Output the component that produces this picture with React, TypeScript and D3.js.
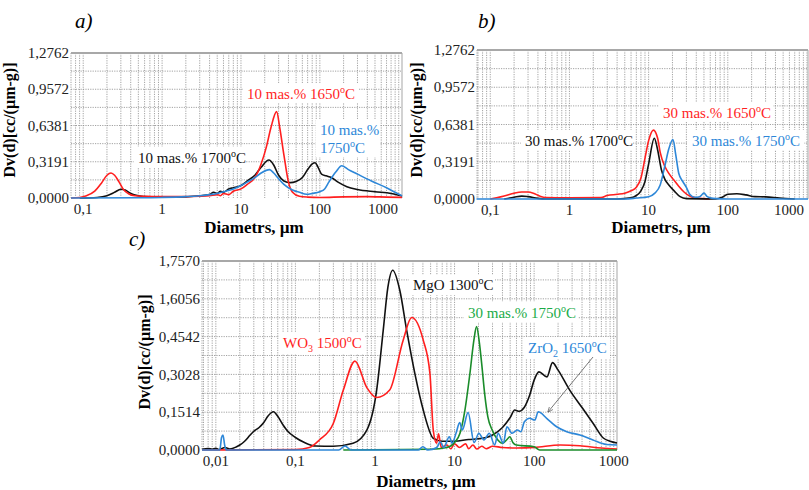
import React, { useEffect } from "react";
import * as d3 from "d3";

type Pt = [number, number];

// ---- panel a: 10 mas.% ----
const a1650: Pt[] = [[0.07, 0], [0.09, 0.005], [0.11, 0.02], [0.14, 0.06], [0.17, 0.13], [0.2, 0.2], [0.225, 0.22], [0.25, 0.2], [0.28, 0.15], [0.32, 0.08], [0.38, 0.035], [0.45, 0.02], [0.6, 0.015], [1, 0.012], [2, 0.012], [3, 0.015], [4, 0.02], [5, 0.03], [5.5, 0.02], [6, 0.04], [7, 0.03], [8, 0.06], [10, 0.08], [12, 0.12], [15, 0.18], [18, 0.3], [21, 0.45], [24, 0.62], [28.3, 0.76], [31, 0.62], [35, 0.38], [40, 0.14], [45, 0.05], [55, 0.015], [70, 0.008], [100, 0.005], [200, 0.01], [400, 0.012], [700, 0.008], [1100, 0.005]];
const a1700: Pt[] = [[0.09, 0], [0.15, 0.005], [0.2, 0.02], [0.25, 0.05], [0.3, 0.077], [0.34, 0.07], [0.4, 0.04], [0.5, 0.02], [0.7, 0.01], [1, 0.008], [2, 0.01], [3, 0.02], [4, 0.03], [4.5, 0.05], [5, 0.04], [5.5, 0.06], [6, 0.05], [7, 0.08], [8, 0.09], [10, 0.11], [12, 0.15], [15, 0.2], [18, 0.27], [22.6, 0.334], [26, 0.29], [30, 0.2], [35, 0.15], [42, 0.135], [50, 0.145], [60, 0.18], [70, 0.25], [80, 0.3], [87, 0.31], [95, 0.27], [105, 0.21], [120, 0.195], [140, 0.18], [170, 0.14], [220, 0.1], [300, 0.075], [500, 0.055], [800, 0.04], [1000, 0.025], [1100, 0.018]];
const a1750: Pt[] = [[0.07, 0], [0.5, 0.002], [1, 0.005], [2, 0.012], [3, 0.02], [4, 0.03], [5, 0.04], [6, 0.055], [8, 0.08], [10, 0.11], [12, 0.14], [15, 0.18], [18, 0.22], [23, 0.25], [26, 0.22], [30, 0.17], [35, 0.12], [45, 0.07], [55, 0.05], [68, 0.033], [80, 0.04], [100, 0.055], [115, 0.08], [130, 0.14], [160, 0.23], [189, 0.284], [230, 0.25], [300, 0.21], [450, 0.15], [700, 0.09], [900, 0.05], [1100, 0.02]];

// ---- panel b: 30 mas.% ----
const b1650: Pt[] = [[0.1, 0], [0.12, 0.01], [0.15, 0.025], [0.2, 0.05], [0.25, 0.06], [0.3, 0.06], [0.35, 0.05], [0.42, 0.025], [0.5, 0.012], [1, 0.01], [2.5, 0.012], [3, 0.03], [4, 0.04], [5, 0.05], [6, 0.07], [7, 0.1], [8, 0.18], [9, 0.35], [10, 0.5], [11.5, 0.59], [13, 0.52], [14, 0.4], [16, 0.28], [18, 0.22], [21, 0.16], [24, 0.11], [28, 0.06], [33, 0.025], [40, 0.01], [50, 0.003], [60, 0]];
const b1700: Pt[] = [[0.15, 0], [0.2, 0.015], [0.25, 0.025], [0.3, 0.02], [0.4, 0.005], [0.5, 0], [4, 0], [6, 0.01], [7, 0.03], [8, 0.07], [9, 0.15], [10, 0.3], [11.8, 0.52], [13, 0.42], [14.5, 0.25], [16, 0.17], [18, 0.12], [21, 0.07], [25, 0.02], [30, 0.003], [70, 0], [85, 0.015], [100, 0.04], [130, 0.045], [170, 0.035], [220, 0.02], [300, 0.018], [450, 0.008], [700, 0]];
const b1750: Pt[] = [[0.067, 0], [5, 0], [7, 0.008], [10, 0.02], [12, 0.05], [14, 0.12], [16, 0.28], [18, 0.43], [20.3, 0.51], [22, 0.38], [24, 0.22], [27, 0.15], [30, 0.1], [33, 0.04], [38, 0.015], [44, 0.02], [50, 0.05], [55, 0.02], [65, 0.005], [100, 0], [1030, 0]];

// ---- panel c ----
const cMgO: Pt[] = [[0.0067, 0.003], [0.008, 0.006], [0.009, 0.003], [0.01, 0.007], [0.011, 0.002], [0.013, 0.01], [0.015, 0.004], [0.018, 0.012], [0.02, 0.02], [0.023, 0.035], [0.027, 0.06], [0.03, 0.075], [0.035, 0.09], [0.04, 0.11], [0.045, 0.135], [0.053, 0.153], [0.06, 0.135], [0.07, 0.1], [0.08, 0.075], [0.1, 0.05], [0.13, 0.03], [0.18, 0.016], [0.3, 0.015], [0.53, 0.027], [0.79, 0.08], [1.05, 0.24], [1.27, 0.48], [1.45, 0.65], [1.67, 0.72], [2.05, 0.64], [2.5, 0.48], [3.2, 0.3], [4.04, 0.16], [5.4, 0.047], [7, 0.035], [10, 0.035], [15, 0.042], [20, 0.045], [25, 0.05], [30, 0.06], [40, 0.09], [50, 0.13], [57, 0.16], [65, 0.155], [75, 0.17], [88, 0.22], [100, 0.28], [115, 0.313], [145, 0.293], [170, 0.35], [200, 0.32], [280, 0.24], [400, 0.17], [550, 0.107], [740, 0.048], [900, 0.035], [1100, 0.028]];
const cWO3: Pt[] = [[0.0067, 0], [0.1, 0.002], [0.15, 0.01], [0.2, 0.04], [0.3, 0.107], [0.4, 0.24], [0.56, 0.356], [0.79, 0.25], [1.05, 0.21], [1.53, 0.24], [2.26, 0.44], [2.89, 0.531], [4.04, 0.44], [4.9, 0.307], [5.4, 0.08], [5.95, 0.027], [6.3, 0.065], [6.8, 0.01], [8, 0.02], [9, 0.005], [10, 0.025], [11.5, 0.01], [13.8, 0.025], [15, 0.005], [17, 0.02], [19, 0.004], [22, 0.015], [25, 0.005], [30, 0.015], [40, 0.01], [60, 0.008], [100, 0.01], [213, 0.02], [376, 0.017], [700, 0.008], [1100, 0.004]];
const c1750: Pt[] = [[0.4, 0], [5, 0.003], [8, 0.01], [10, 0.03], [11.7, 0.067], [13.5, 0.16], [15.6, 0.307], [17.5, 0.44], [18.9, 0.494], [20.5, 0.43], [21.9, 0.347], [24, 0.22], [26.2, 0.133], [29.7, 0.08], [35, 0.04], [40, 0.027], [45, 0.04], [49.6, 0.053], [54, 0.03], [59.7, 0.02], [100, 0.013], [117, 0], [1100, 0]];
const cZrO2: Pt[] = [[0.0067, 0], [0.0112, 0], [0.0118, 0.05], [0.0123, 0.06], [0.0129, 0.02], [0.0135, 0], [0.35, 0], [0.42, 0.016], [0.5, 0], [3.5, 0], [4, 0.013], [4.6, 0], [6, 0.01], [6.6, 0.033], [7.3, 0.01], [8.6, 0.053], [9.3, 0.027], [10.5, 0.07], [11.6, 0.11], [12.5, 0.08], [14.8, 0.15], [17.6, 0.03], [20.2, 0.067], [23.4, 0.04], [27.3, 0.067], [31.9, 0.02], [35.3, 0.067], [41, 0.027], [45.5, 0.093], [52.8, 0.067], [61.6, 0.08], [68.2, 0.073], [75.4, 0.113], [87.8, 0.127], [102, 0.12], [112.5, 0.153], [143.7, 0.127], [191.8, 0.093], [257, 0.073], [376, 0.06], [548, 0.04], [810, 0.022], [1100, 0.02]];

// ---- axes ----
const abYTicks = [0, 0.3191, 0.6381, 0.9572, 1.2762];
const abYLabels = ["0,0000", "0,3191", "0,6381", "0,9572", "1,2762"];
const cYTicks = [0, 0.1514, 0.3028, 0.4542, 0.6056, 0.757];
const cYLabels = ["0,0000", "0,1514", "0,3028", "0,4542", "1,6056", "1,7570"];
const abXTicks = [0.1, 1, 10, 100, 1000];
const abXLabels = ["0,1", "1", "10", "100", "1000"];
const cXTicks = [0.01, 0.1, 1, 10, 100, 1000];
const cXLabels = ["0,01", "0,1", "1", "10", "100", "1000"];

const RED = "#ff1f1f";
const BLACK = "#111";
const BLUE = "#2d87d8";
const GREEN = "#1a8c2a";
const GREEN_TXT = "#1aab48";
const FONT = "Liberation Serif";

type Series = { data: Pt[]; color: string };

function T(props: any) {
  const { style, ...rest } = props;
  return <text {...rest} style={{ fontFamily: FONT, ...(style || {}) }} />;
}

function Panel(props: {
  x: number; y: number; w: number; h: number;
  xDomain: [number, number]; yTicks: number[]; yLabels: string[];
  xTicks: number[]; xLabels: string[]; series: Series[]; lastAtEdge: boolean;
}) {
  const { x, y, w, h, xDomain, yTicks, yLabels, xTicks, xLabels, series, lastAtEdge } = props;
  const xs = d3.scaleLog().domain(xDomain).range([0, w]);
  const ys = d3.scaleLinear().domain([0, yTicks[yTicks.length - 1]]).range([h, 0]);

  const minor: number[] = [];
  for (let e = -3; e <= 3; e++) {
    for (let m = 1; m <= 9; m++) {
      const v = m * Math.pow(10, e);
      if (v > xDomain[0] && v < xDomain[1]) minor.push(v);
    }
  }
  const n = (yTicks.length - 1) * 2;
  const half = d3.range(1, n).map(i => (i * yTicks[yTicks.length - 1]) / n);

  const line = d3.line<Pt>().x(d => xs(d[0])).y(d => ys(d[1])).curve(d3.curveMonotoneX);

  return (
    <g transform={`translate(${x},${y})`}>
      {minor.map((v, i) => (
        <line key={"v" + i} x1={xs(v)} x2={xs(v)} y1={0} y2={h} stroke="#8c8c8c" strokeWidth={0.8} strokeDasharray="1.2 1.2" />
      ))}
      {half.map((v, i) => (
        <line key={"h" + i} x1={0} x2={w} y1={ys(v)} y2={ys(v)} stroke="#8c8c8c" strokeWidth={0.8} strokeDasharray="1.2 1.2" />
      ))}
      <line x1={0} x2={0} y1={0} y2={h} stroke="#8c8c8c" strokeWidth={0.8} strokeDasharray="1.2 1.2" />
      <line x1={w} x2={w} y1={0} y2={h} stroke="#b4b4b4" strokeWidth={1.2} />
      <line x1={0} x2={w} y1={0} y2={0} stroke="#a8a8a8" strokeWidth={2} />
      {series.map((s, i) => (
        <path key={"s" + i} d={line(s.data) || ""} fill="none" stroke={s.color} strokeWidth={1.6} strokeLinejoin="round" />
      ))}
      {yTicks.map((t, i) => (
        <T key={"yt" + i} x={-2} y={ys(t)} dy="0.35em" textAnchor="end" fontSize={15} fill="#222">{yLabels[i]}</T>
      ))}
      {xTicks.map((t, i) => {
        const last = i === xTicks.length - 1 && lastAtEdge;
        return (
          <T key={"xt" + i} x={last ? w - 4 : xs(t)} y={h + 16} textAnchor={last ? "end" : "middle"} fontSize={15} fill="#222">{xLabels[i]}</T>
        );
      })}
    </g>
  );
}

function Deg() {
  return (<><tspan dy={-6} fontSize={10}>o</tspan><tspan dy={6}>C</tspan></>);
}

function Box(props: { x: number; y: number; w: number; h: number }) {
  return <rect x={props.x} y={props.y} width={props.w} height={props.h} fill="#fff" />;
}

export default function App() {
  useEffect(() => { document.body.style.margin = "0"; }, []);
  const yTitle = "Dv(d)[cc/(µm-g)]";
  return (
    <svg width={809} height={490} style={{ display: "block", background: "#fff", fontFamily: FONT }}>
      <defs>
        <marker id="arr" viewBox="0 0 10 10" refX={9} refY={5} markerWidth={7} markerHeight={7} orient="auto">
          <path d="M0,1 L10,5 L0,9" fill="none" stroke="#555" strokeWidth={1.2} />
        </marker>
      </defs>

      {/* a) */}
      <T x={75} y={28} fontSize={21} fontStyle="italic">a)</T>
      <Panel x={71} y={53} w={331} h={145} xDomain={[0.07, 1100]} yTicks={abYTicks} yLabels={abYLabels}
        xTicks={abXTicks} xLabels={abXLabels} lastAtEdge={true}
        series={[{ data: a1700, color: BLACK }, { data: a1650, color: RED }, { data: a1750, color: BLUE }]} />
      <Box x={134} y={147} w={112} h={20} />
      <T x={138} y={163} fontSize={15} fill={BLACK}>10 mas.% 1700<Deg /></T>
      <Box x={243} y={83} w={116} h={20} />
      <T x={247} y={99} fontSize={15} fill={RED}>10 mas.% 1650<Deg /></T>
      <Box x={316} y={119} w={64} h={38} />
      <T x={320} y={135} fontSize={15} fill={BLUE}>10 mas.%</T>
      <T x={320} y={153} fontSize={15} fill={BLUE}>1750<Deg /></T>
      <T transform="translate(15,120) rotate(-90)" textAnchor="middle" fontSize={16} fontWeight="bold">{yTitle}</T>
      <T x={254} y={233} textAnchor="middle" fontSize={17} fontWeight="bold">Diametrs, µm</T>

      {/* b) */}
      <T x={478} y={28} fontSize={21} fontStyle="italic">b)</T>
      <Panel x={477} y={50} w={331} h={149} xDomain={[0.068, 1030]} yTicks={abYTicks} yLabels={abYLabels}
        xTicks={abXTicks} xLabels={abXLabels} lastAtEdge={true}
        series={[{ data: b1650, color: RED }, { data: b1700, color: BLACK }, { data: b1750, color: BLUE }]} />
      <Box x={521} y={130} w={112} h={20} />
      <T x={525} y={146} fontSize={15} fill={BLACK}>30 mas.% 1700<Deg /></T>
      <Box x={659} y={102} w={114} h={20} />
      <T x={663} y={118} fontSize={15} fill={RED}>30 mas.% 1650<Deg /></T>
      <Box x={688} y={130} w={116} h={20} />
      <T x={692} y={146} fontSize={15} fill={BLUE}>30 mas.% 1750<Deg /></T>
      <T transform="translate(422,120) rotate(-90)" textAnchor="middle" fontSize={16} fontWeight="bold">{yTitle}</T>
      <T x={661} y={233} textAnchor="middle" fontSize={17} fontWeight="bold">Diametrs, µm</T>

      {/* c) */}
      <T x={129} y={246} fontSize={21} fontStyle="italic">c)</T>
      <Panel x={202} y={261} w={415} h={189} xDomain={[0.0067, 1100]} yTicks={cYTicks} yLabels={cYLabels}
        xTicks={cXTicks} xLabels={cXLabels} lastAtEdge={false}
        series={[{ data: cMgO, color: BLACK }, { data: cWO3, color: RED }, { data: c1750, color: GREEN }, { data: cZrO2, color: BLUE }]} />
      <Box x={409} y={275} w={86} h={20} />
      <T x={413} y={290} fontSize={15} fill={BLACK}>MgO 1300<Deg /></T>
      <Box x={464} y={302} w={114} h={20} />
      <T x={468} y={318} fontSize={15} fill={GREEN_TXT}>30 mas.% 1750<Deg /></T>
      <Box x={279} y={332} w={86} h={22} />
      <T x={283} y={348} fontSize={15} fill={RED}>WO<tspan dy={4} fontSize={10}>3</tspan><tspan dy={-4}> 1500</tspan><Deg /></T>
      <Box x={524} y={337} w={86} h={22} />
      <T x={528} y={353} fontSize={15} fill={BLUE}>ZrO<tspan dy={4} fontSize={10}>2</tspan><tspan dy={-4}> 1650</tspan><Deg /></T>
      <line x1={593} y1={357} x2={548} y2={412} stroke="#555" strokeWidth={0.8} markerEnd="url(#arr)" />
      <T transform="translate(150,352) rotate(-90)" textAnchor="middle" fontSize={16} fontWeight="bold">{yTitle}</T>
      <T x={426} y={487} textAnchor="middle" fontSize={17} fontWeight="bold">Diametrs, µm</T>
    </svg>
  );
}
